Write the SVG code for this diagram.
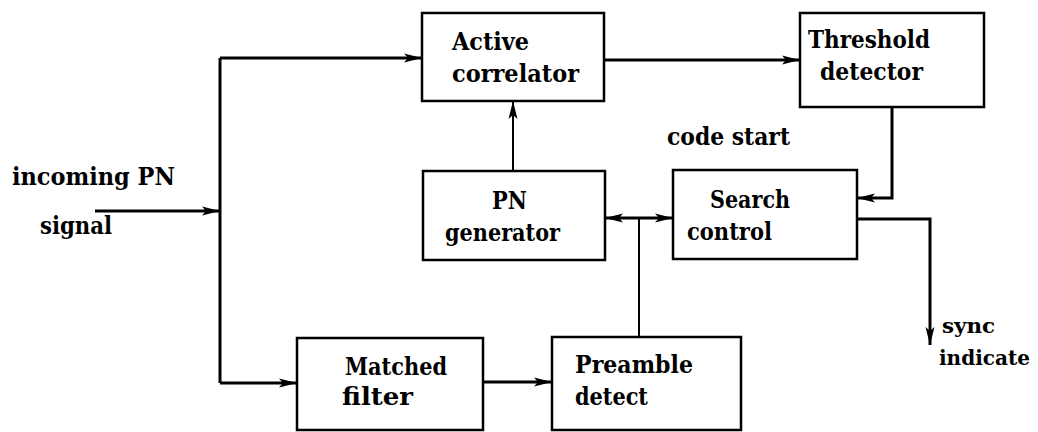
<svg xmlns="http://www.w3.org/2000/svg" width="1038" height="432" viewBox="0 0 1038 432">
  <defs>
    <marker id="arrow" viewBox="0 0 18 10" refX="18" refY="5" markerWidth="18" markerHeight="10" markerUnits="userSpaceOnUse" orient="auto-start-reverse">
      <path d="M0,0.5 L18,5 L0,9.5 L4,5 Z" fill="#000"/>
    </marker>
  </defs>
  <style>
    .box { fill: #fff; stroke: #000; stroke-width: 2.5; }
    .lbl { font-family: "DejaVu Serif", "Liberation Serif", serif; font-weight: bold; font-size: 24px; fill: #000; }
    .sm { font-size: 21px; }
    .wire { fill: none; stroke: #000; stroke-width: 3; stroke-linejoin: miter; }
    .thin { fill: none; stroke: #000; stroke-width: 2; }
  </style>
  <rect width="1038" height="432" fill="#fff"/>

  <g id="connectors">
    <path class="wire" d="M95,211 H220" marker-end="url(#arrow)"/>
    <path class="wire" d="M220,58 V383"/>
    <path class="wire" d="M220,58 H422" marker-end="url(#arrow)"/>
    <path class="wire" d="M220,383 H297" marker-end="url(#arrow)"/>
    <path class="wire" d="M604,60 H800" marker-end="url(#arrow)"/>
    <path class="thin" d="M513,171 V101" marker-end="url(#arrow)"/>
    <path class="wire" d="M892,107 V198 H857" marker-end="url(#arrow)"/>
    <path class="wire" d="M605,218 H673" marker-start="url(#arrow)" marker-end="url(#arrow)"/>
    <path class="thin" d="M639,218 V337"/>
    <path class="wire" d="M483,382 H552" marker-end="url(#arrow)"/>
    <path class="wire" d="M857,219 H930 V345" marker-end="url(#arrow)"/>
  </g>

  <g id="active-correlator">
    <rect class="box" x="422" y="13" width="182" height="88"/>
    <text class="lbl" x="452" y="50" textLength="77" lengthAdjust="spacingAndGlyphs">Active</text>
    <text class="lbl" x="452" y="82" textLength="127" lengthAdjust="spacingAndGlyphs">correlator</text>
  </g>

  <g id="threshold-detector">
    <rect class="box" x="800" y="13" width="184" height="94"/>
    <text class="lbl" x="808" y="48" textLength="122" lengthAdjust="spacingAndGlyphs">Threshold</text>
    <text class="lbl" x="820" y="80" textLength="103" lengthAdjust="spacingAndGlyphs">detector</text>
  </g>

  <g id="pn-generator">
    <rect class="box" x="423" y="171" width="182" height="89"/>
    <text class="lbl" x="492" y="209" textLength="35" lengthAdjust="spacingAndGlyphs">PN</text>
    <text class="lbl" x="445" y="241" textLength="115" lengthAdjust="spacingAndGlyphs">generator</text>
  </g>

  <g id="search-control">
    <rect class="box" x="673" y="170" width="184" height="89"/>
    <text class="lbl" x="710" y="208" textLength="80" lengthAdjust="spacingAndGlyphs">Search</text>
    <text class="lbl" x="687" y="240" textLength="85" lengthAdjust="spacingAndGlyphs">control</text>
  </g>

  <g id="matched-filter">
    <rect class="box" x="297" y="338" width="186" height="92"/>
    <text class="lbl" x="345" y="375" textLength="102" lengthAdjust="spacingAndGlyphs">Matched</text>
    <text class="lbl" x="342" y="405" textLength="71" lengthAdjust="spacingAndGlyphs">filter</text>
  </g>

  <g id="preamble-detect">
    <rect class="box" x="552" y="337" width="189" height="93"/>
    <text class="lbl" x="575" y="373" textLength="118" lengthAdjust="spacingAndGlyphs">Preamble</text>
    <text class="lbl" x="575" y="405" textLength="73" lengthAdjust="spacingAndGlyphs">detect</text>
  </g>

  <g id="labels">
    <text class="lbl" x="12" y="185" textLength="163" lengthAdjust="spacingAndGlyphs">incoming PN</text>
    <text class="lbl" x="40" y="234" textLength="72" lengthAdjust="spacingAndGlyphs">signal</text>
    <text class="lbl" x="667" y="145" textLength="123" lengthAdjust="spacingAndGlyphs">code start</text>
    <text class="lbl sm" x="942" y="333" textLength="53" lengthAdjust="spacingAndGlyphs">sync</text>
    <text class="lbl sm" x="939" y="365" textLength="91" lengthAdjust="spacingAndGlyphs">indicate</text>
  </g>
</svg>
